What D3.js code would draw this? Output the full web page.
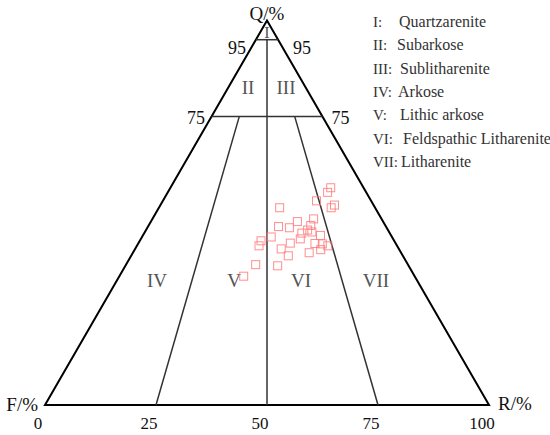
<!DOCTYPE html>
<html>
<head>
<meta charset="utf-8">
<script src="https://cdn.jsdelivr.net/npm/d3@7"></script>
<style>
  html, body { margin: 0; padding: 0; background: #fff; }
  svg { display: block; }
  text { font-family: "Liberation Serif", "DejaVu Serif", serif; }
</style>
</head>
<body>
<svg id="chart" width="550" height="435"></svg>
<script>
// ---------- data ----------
const baseTicks = [0, 25, 50, 75, 100];
const qLevels = [95, 75];
const regionNumerals = ["I", "II", "III", "IV", "V", "VI", "VII"];
const regionNames = ["Quartzarenite", "Subarkose", "Sublitharenite", "Arkose",
  "Lithic arkose", "Feldspathic Litharenite", "Litharenite"];
// sample compositions (%), Q + F + R = 100
const sampleQ = [56.5, 55.3, 53.1, 52.0, 51.3, 51.3, 47.7, 48.4, 46.4, 46.1,
  46.7, 45.5, 44.7, 45.0, 44.1, 43.7, 43.2, 42.7, 41.4, 42.1,
  42.0, 41.9, 41.4, 40.6, 40.4, 39.6, 38.8, 36.5, 36.2, 33.5];
const sampleF = [7.4, 8.7, 12.3, 8.8, 9.9, 21.5, 19.3, 15.3, 24.2, 21.9,
  16.8, 18.1, 19.8, 17.4, 15.9, 27.2, 20.9, 30.0, 31.1, 23.7,
  18.2, 16.6, 15.6, 26.5, 17.7, 20.7, 25.8, 34.3, 29.5, 38.5];
const sampleR = [36.1, 36.0, 34.6, 39.2, 38.8, 27.2, 33.0, 36.3, 29.4, 32.0,
  36.5, 36.4, 35.5, 37.6, 40.0, 29.1, 35.9, 27.3, 27.5, 34.2,
  39.8, 41.5, 43.0, 32.9, 41.9, 39.7, 35.4, 29.2, 34.3, 28.0];

// ---------- geometry ----------
const svg = d3.select("#chart");
const x = d3.scaleLinear().domain([0, 100]).range([45, 489]);
const y = d3.scaleLinear().domain([0, 100]).range([405, 405 - 444 * Math.sqrt(3) / 2]);
// ternary projection: (Q, F, R) -> pixel
const proj = (q, f, r) => {
  const s = q + f + r;
  q = q / s * 100; r = r / s * 100;
  return [x(r + q / 2), y(q)];
};

// triangle outline
const corners = [proj(100, 0, 0), proj(0, 100, 0), proj(0, 0, 100)];
svg.append("path")
  .attr("d", d3.line()(corners) + "Z")
  .attr("fill", "none").attr("stroke", "#000").attr("stroke-width", 2)
  .attr("stroke-linejoin", "miter");

// classification boundaries
const segs = [];
qLevels.forEach(q => segs.push([proj(q, 100 - q, 0), proj(q, 0, 100 - q)]));
segs.push([proj(0, 50, 50), proj(95, 2.5, 2.5)]);
segs.push([proj(0, 75, 25), proj(75, 18.75, 6.25)]);
segs.push([proj(0, 25, 75), proj(75, 6.25, 18.75)]);
svg.append("g").selectAll("path").data(segs).join("path")
  .attr("d", d => d3.line()(d))
  .attr("fill", "none").attr("stroke", "#333").attr("stroke-width", 1.5);

// base tick labels
svg.append("g").selectAll("text").data(baseTicks).join("text")
  .attr("x", d => x(d) - 7).attr("y", 429)
  .attr("text-anchor", "middle").attr("font-size", 17).attr("fill", "#111")
  .text(d => d);

// Q level labels on both sides
const qLabelLayout = { 95: { dl: 10, dr: 15, by: 54 }, 75: { dl: 6.5, dr: 9, by: 124 } };
qLevels.forEach(q => {
  const [lx] = proj(q, 100 - q, 0);
  const [rx] = proj(q, 0, 100 - q);
  const L = qLabelLayout[q];
  svg.append("text").attr("x", lx - L.dl).attr("y", L.by).attr("text-anchor", "end")
    .attr("font-size", 18).attr("fill", "#111").text(q);
  svg.append("text").attr("x", rx + L.dr).attr("y", L.by).attr("text-anchor", "start")
    .attr("font-size", 18).attr("fill", "#111").text(q);
});

// corner labels
svg.append("text").attr("x", corners[0][0]).attr("y", 20).attr("text-anchor", "middle")
  .attr("font-size", 19).attr("fill", "#111").text("Q/%");
svg.append("text").attr("x", corners[1][0] - 7).attr("y", 411).attr("text-anchor", "end")
  .attr("font-size", 19).attr("fill", "#111").text("F/%");
svg.append("text").attr("x", corners[2][0] + 9).attr("y", 410).attr("text-anchor", "start")
  .attr("font-size", 19).attr("fill", "#111").text("R/%");

// region labels inside triangle
const regionPos = [[267, 38, 16], [248, 94, 19], [286, 94, 19],
  [157, 287, 19], [234, 287, 19], [301, 287, 19], [376, 287, 19]];
svg.append("g").selectAll("text").data(regionNumerals).join("text")
  .attr("x", (d, i) => regionPos[i][0])
  .attr("y", (d, i) => regionPos[i][1])
  .attr("font-size", (d, i) => regionPos[i][2])
  .attr("text-anchor", "middle").attr("fill", "#555")
  .text(d => d);

// sample points (open squares)
const pts = sampleQ.map((q, i) => proj(q, sampleF[i], sampleR[i]));
svg.append("g").selectAll("rect").data(pts).join("rect")
  .attr("x", d => d[0] - 4).attr("y", d => d[1] - 4)
  .attr("width", 8).attr("height", 8)
  .attr("fill", "none").attr("stroke", "#ff7a7a").attr("stroke-width", 1)
  .attr("stroke-opacity", 0.85);

// legend
const nameX = [399, 397, 400, 398, 400, 403, 391];
const lg = svg.append("g");
regionNumerals.forEach((n, i) => {
  const by = 27 + i * 23.3;
  const rt = lg.append("text").attr("x", 373).attr("y", by).attr("font-size", 15)
    .attr("fill", "#333").text(n + ":");
  const end = 373 + rt.node().getComputedTextLength();
  lg.append("text").attr("x", Math.max(nameX[i], end + 3)).attr("y", by).attr("font-size", 16)
    .attr("fill", "#333").text(regionNames[i]);
});
</script>
</body>
</html>
